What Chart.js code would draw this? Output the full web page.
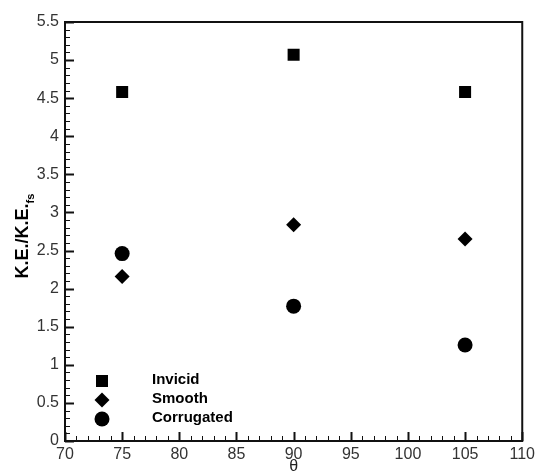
<!DOCTYPE html>
<html>
<head>
<meta charset="utf-8">
<script src="https://cdn.jsdelivr.net/npm/chart.js@4.4.0/dist/chart.umd.min.js"></script>
<style>
  html, body { margin: 0; padding: 0; background: #fff; }
  #wrap { width: 539px; height: 476px; }
</style>
</head>
<body>
<div id="wrap"><canvas id="grafico" width="539" height="476"></canvas></div>
<script>
// datos
const angles = [75, 90, 105];
const invicid = [4.58, 5.07, 4.58];
const smooth = [2.16, 2.84, 2.65];
const corrugated = [2.46, 1.77, 1.26];
const xTicks = [70, 75, 80, 85, 90, 95, 100, 105, 110];
const yTicks = [0, 0.5, 1, 1.5, 2, 2.5, 3, 3.5, 4, 4.5, 5, 5.5];

const FONT = "'Liberation Sans', Arial, sans-serif";

const toPoints = vals => vals.map((v, i) => ({ x: angles[i], y: v }));

// ➤ marco, ticks hacia dentro, título Y con subíndice y leyenda
const decoPlugin = {
    id: "deco",
    afterDraw(chart) {
        const { ctx, chartArea: a, scales } = chart;
        const xs = scales.x, ys = scales.y;
        ctx.save();
        ctx.strokeStyle = "#111";

        // ticks eje X
        for (let v = 70; v <= 110; v++) {
            const px = Math.round(xs.getPixelForValue(v)) + 0.5;
            const major = v % 5 === 0;
            ctx.lineWidth = major ? 2 : 1;
            ctx.beginPath();
            ctx.moveTo(px, a.bottom);
            ctx.lineTo(px, a.bottom - (major ? 9 : 5));
            ctx.stroke();
        }
        // ticks eje Y
        for (let i = 0; i <= 55; i++) {
            const v = i / 10;
            const py = Math.round(ys.getPixelForValue(v)) + 0.5;
            const major = i % 5 === 0;
            ctx.lineWidth = major ? 2 : 1;
            ctx.beginPath();
            ctx.moveTo(a.left, py);
            ctx.lineTo(a.left + (major ? 9 : 5), py);
            ctx.stroke();
        }

        // marco
        ctx.lineWidth = 2;
        ctx.strokeRect(a.left, a.top, a.right - a.left, a.bottom - a.top);

        // título eje Y
        ctx.fillStyle = "#000";
        ctx.translate(23, 236);
        ctx.rotate(-Math.PI / 2);
        ctx.font = "bold 18px " + FONT;
        ctx.textBaseline = "middle";
        const main = "K.E./K.E.";
        const w1 = ctx.measureText(main).width;
        ctx.font = "bold 11px " + FONT;
        const w2 = ctx.measureText("fs").width;
        const start = -(w1 + w2) / 2;
        ctx.font = "bold 18px " + FONT;
        ctx.textAlign = "left";
        ctx.fillText(main, start, 0);
        ctx.font = "bold 11px " + FONT;
        ctx.fillText("fs", start + w1, 8);
        ctx.restore();

        // leyenda
        ctx.save();
        const items = [
            { label: "Invicid", style: "rect", r: 8.5, y: 381 },
            { label: "Smooth", style: "rectRot", r: 7.5, y: 400 },
            { label: "Corrugated", style: "circle", r: 7.5, y: 419 }
        ];
        ctx.fillStyle = "#000";
        items.forEach(it => {
            const cx = 102;
            ctx.beginPath();
            if (it.style === "rect") {
                const s = it.r * Math.SQRT1_2;
                ctx.rect(cx - s, it.y - s, 2 * s, 2 * s);
            } else if (it.style === "rectRot") {
                ctx.moveTo(cx, it.y - it.r);
                ctx.lineTo(cx + it.r, it.y);
                ctx.lineTo(cx, it.y + it.r);
                ctx.lineTo(cx - it.r, it.y);
                ctx.closePath();
            } else {
                ctx.arc(cx, it.y, it.r, 0, Math.PI * 2);
            }
            ctx.fill();
            ctx.font = "bold 15px " + FONT;
            ctx.textBaseline = "middle";
            ctx.textAlign = "left";
            ctx.fillText(it.label, 152, it.y - 1);
        });
        ctx.restore();
    }
};

const ds = (label, vals, style, r) => ({
    label,
    data: toPoints(vals),
    pointStyle: style,
    pointRadius: r,
    pointHoverRadius: r,
    backgroundColor: "#000",
    borderColor: "#000",
    borderWidth: 0,
    showLine: false
});

new Chart(document.getElementById("grafico").getContext("2d"), {
    type: "scatter",
    data: {
        datasets: [
            ds("Invicid", invicid, "rect", 8.5),
            ds("Smooth", smooth, "rectRot", 7.5),
            ds("Corrugated", corrugated, "circle", 7.5)
        ]
    },
    options: {
        responsive: false,
        animation: false,
        layout: { padding: { top: 22, right: 12, left: 0, bottom: 0 } },
        plugins: { legend: { display: false }, tooltip: { enabled: false } },
        scales: {
            x: {
                type: "linear",
                min: 70, max: 110,
                afterBuildTicks: s => { s.ticks = xTicks.map(v => ({ value: v })); },
                afterFit: s => { s.height = 35; },
                grid: { display: false, drawTicks: false },
                border: { display: false },
                ticks: {
                    color: "#333",
                    font: { family: FONT, size: 16 },
                    padding: 4,
                    maxRotation: 0,
                    callback: v => String(v)
                },
                title: {
                    display: true,
                    text: "θ",
                    color: "#222",
                    font: { family: FONT, size: 16 },
                    padding: 0
                }
            },
            y: {
                type: "linear",
                min: 0, max: 5.5,
                afterBuildTicks: s => { s.ticks = yTicks.map(v => ({ value: v })); },
                afterFit: s => { s.width = 65; },
                grid: { display: false, drawTicks: false },
                border: { display: false },
                ticks: {
                    color: "#333",
                    font: { family: FONT, size: 16 },
                    padding: 6,
                    callback: v => String(v)
                }
            }
        }
    },
    plugins: [decoPlugin]
});
</script>
</body>
</html>
